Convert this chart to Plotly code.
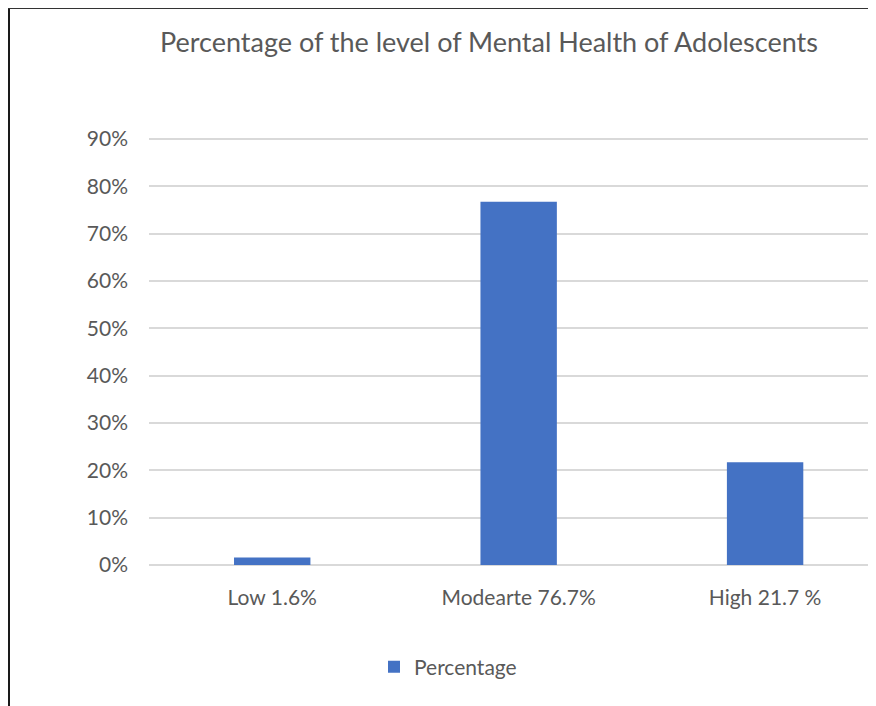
import plotly.graph_objects as go

categories = ["Low 1.6%", "Modearte 76.7%", "High 21.7 %"]
values = [0.016, 0.767, 0.217]
tick_vals = [0, 0.1, 0.2, 0.3, 0.4, 0.5, 0.6, 0.7, 0.8, 0.9]
tick_text = ["0%", "10%", "20%", "30%", "40%", "50%", "60%", "70%", "80%", "90%"]
series_name = "Percentage"
title_text = "Percentage of the level of Mental Health of Adolescents"

# page body adds an 8px margin, so figure is drawn 8px smaller and offset
OFF = 8
Y_TOP = 0.906
W, H = 876 - OFF, 706 - OFF
ZERO_PX, NINETY_PX = 565, 139
unit = (ZERO_PX - NINETY_PX) / 0.9
top_px = ZERO_PX - Y_TOP * unit
L, R, T, B = 149 - OFF, 0, top_px - OFF, 706 - ZERO_PX
pw = W - L - R
ph = H - T - B

FONT = "Lato"
GREY = "#595959"

fig = go.Figure()
fig.add_trace(go.Bar(
    x=categories, y=values, name=series_name,
    marker=dict(color="#4472C4", line=dict(width=0)),
    width=0.31, showlegend=True,
))

def px_x(p):
    return (p - OFF - L) / pw

def px_y(p):
    return (H - B - (p - OFF)) / ph

fig.update_layout(
    width=W, height=H,
    margin=dict(l=L, r=R, t=T, b=B, pad=0),
    paper_bgcolor="white", plot_bgcolor="white",
    title=dict(text=title_text, x=(489 - OFF) / W, xanchor="center",
               y=1 - (43 - OFF) / H, yanchor="middle",
               font=dict(family=FONT, size=27, color=GREY)),
    xaxis=dict(range=[-0.5, 2.45], showgrid=False, showline=False,
               zeroline=False, ticks="", tickfont=dict(family=FONT, size=21, color=GREY),
               ticklabelstandoff=18, fixedrange=True),
    yaxis=dict(range=[0, Y_TOP], tickvals=tick_vals, ticktext=tick_text,
               showgrid=True, gridcolor="#D9D9D9", gridwidth=1.5,
               zeroline=True, zerolinecolor="#D9D9D9", zerolinewidth=1.5,
               showline=False, ticks="", ticklabelstandoff=20,
               tickfont=dict(family=FONT, size=21, color=GREY)),
    legend=dict(orientation="h", x=px_x(374), xanchor="left",
                y=px_y(667), yanchor="middle",
                font=dict(family=FONT, size=21, color=GREY),
                itemwidth=30),
    bargap=0.69,
    shapes=[
        dict(type="line", xref="paper", yref="paper",
             x0=px_x(9), x1=px_x(9), y0=px_y(8), y1=px_y(720),
             line=dict(color="#1a1a1a", width=2)),
        dict(type="line", xref="paper", yref="paper",
             x0=px_x(8), x1=px_x(890), y0=px_y(8.5), y1=px_y(8.5),
             line=dict(color="#333333", width=1.5)),
    ],
)

fig.write_html("out.html")
